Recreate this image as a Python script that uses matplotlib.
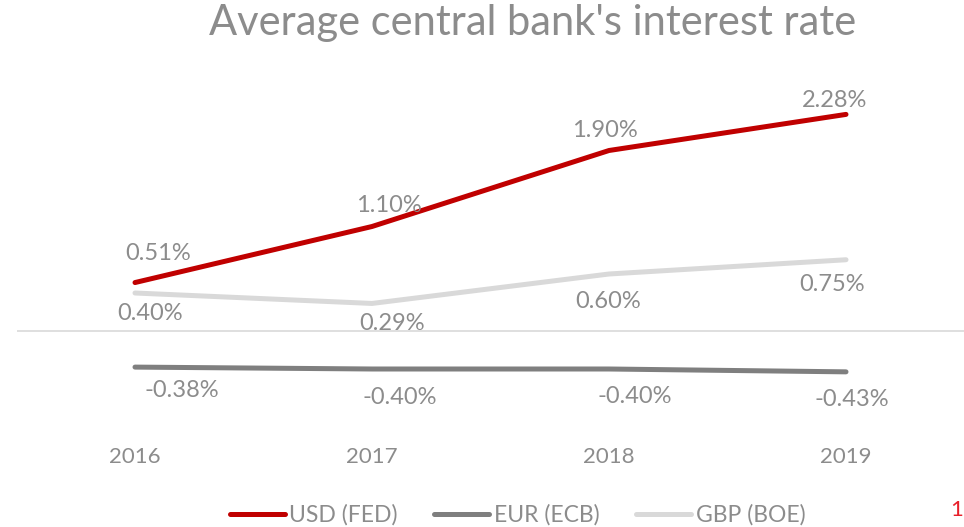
import matplotlib.pyplot as plt

plt.rcParams['font.family'] = ['Lato', 'DejaVu Sans']

years = ["2016", "2017", "2018", "2019"]
usd_fed = [0.51, 1.10, 1.90, 2.28]
eur_ecb = [-0.38, -0.40, -0.40, -0.43]
gbp_boe = [0.40, 0.29, 0.60, 0.75]

series = [
    ("USD (FED)", usd_fed, "#C00000"),
    ("EUR (ECB)", eur_ecb, "#7F7F7F"),
    ("GBP (BOE)", gbp_boe, "#D9D9D9"),
]

# label offsets in pixels (dx, dy), per series
label_offsets = {
    "USD (FED)": [(23, 29), (17, 21), (-4, 20), (-11, 14)],
    "EUR (ECB)": [(47, -23), (28, -28), (26, -27), (6, -28)],
    "GBP (BOE)": [(15, -20), (20, -20), (-1, -27), (-14, -25)],
}

TEXT = "#8C8C8C"

fig = plt.figure(figsize=(9.64, 5.27), dpi=100)
ax = fig.add_axes([0.01712, 0.19165, 0.98340, 0.63093])

x = list(range(len(years)))
ax.axhline(0, color="#D9D9D9", lw=1.2, zorder=1)

for name, vals, col in series:
    ax.plot(x, vals, color=col, lw=3.6, solid_capstyle="round", label=name, zorder=3)
    for xi, v, (dx, dy) in zip(x, vals, label_offsets[name]):
        ax.annotate(f"{v:.2f}%", (xi, v), xytext=(dx, dy), textcoords="offset pixels",
                    ha="center", va="center", fontsize=17, color=TEXT)

ax.set_xlim(-0.5, 3.5)
ax.set_ylim(-1.0, 2.5)
ax.set_xticks(x)
ax.set_xticklabels(years, fontsize=16, color=TEXT)
ax.tick_params(axis="x", length=0, pad=15)
ax.set_yticks([])
for s in ax.spines.values():
    s.set_visible(False)

fig.text(0.5524, 0.9336, "Average central bank's interest rate",
         ha="center", va="baseline", fontsize=30, color=TEXT)

leg = fig.legend(loc="center", bbox_to_anchor=(0.5368, 0.0228), ncol=3, frameon=False,
                 fontsize=16.5, handlelength=2.4, handletextpad=0.2, columnspacing=1.6)
for t in leg.get_texts():
    t.set_color(TEXT)

fig.text(957 / 964, (527 - 510) / 527, "1", color="#E8202A", fontsize=16,
         ha="center", va="center")

fig.savefig("out.png", dpi=100)
